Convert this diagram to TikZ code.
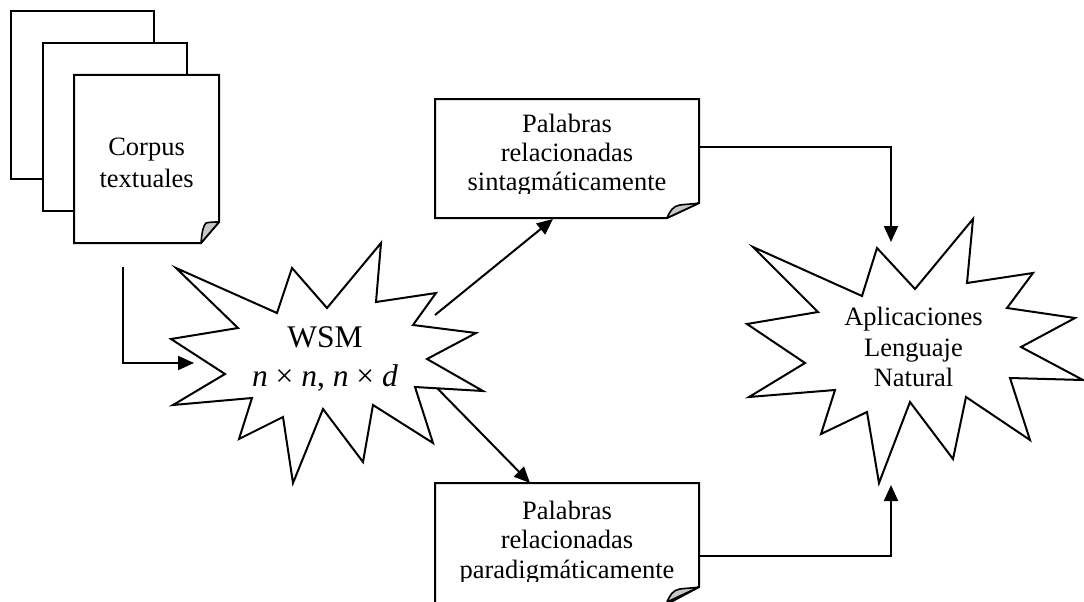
\documentclass[tikz,border=0pt]{standalone}
\usepackage{fontspec}
\setmainfont{Liberation Serif}
\usetikzlibrary{arrows.meta}
\begin{document}
\begin{tikzpicture}[x=1pt,y=-1pt,
  ln/.style={line width=2pt, line join=miter},
  shapebox/.style={ln, draw=black, fill=white},
  foldfill/.style={line width=1.6pt, draw=black, fill=black!22, line join=round},
  conn/.style={ln, -{Triangle[length=16pt,width=14pt]}},
  txt/.style={inner sep=0pt, align=center},
]
\clip (0,0) rectangle (1084,602);
\fill[white] (0,0) rectangle (1084,602);

% ---- stacked pages (Corpus textuales)
\draw[shapebox] (11,11) rectangle (154,179);
\draw[shapebox] (43,43) rectangle (187,211);
\draw[shapebox] (74,75) -- (219,75) -- (219,222) -- (201,243) -- (74,243) -- cycle;
\draw[foldfill] (201,243) .. controls (202,232) and (203,226) .. (206,223)
  .. controls (210,222) and (215,222) .. (219,222) -- cycle;
\node[txt, font=\fontsize{26.5}{32}\selectfont] (corpus) at (146.6,165)
  {\strut Corpus\\\strut textuales};

% ---- WSM explosion
\draw[shapebox] (176,268) -- (277,313) -- (292,268) -- (327,308) -- (381,243)
  -- (376,302) -- (436,293) -- (413,325) -- (476,333) -- (427,359) -- (483,391)
  -- (415,387) -- (433,443) -- (373,405) -- (363,462) -- (323,409) -- (293,483)
  -- (283,417) -- (239,439) -- (252,398) -- (173,405) -- (225,374) -- (171,339)
  -- (238,328) -- cycle;
\node[txt, font=\fontsize{31.5}{39}\selectfont] (wsm) at (325,359)
  {\strut WSM\\\strut\textit{n} × \textit{n}, \textit{n} × \textit{d}};

% ---- top box (sintagmaticamente)
\draw[shapebox] (435,99) -- (699,99) -- (699,203) -- (667,218) -- (435,218) -- cycle;
\draw[foldfill] (667,218) .. controls (670,211) and (673,206) .. (680,205)
  .. controls (688,204) and (694,204) .. (699,203) -- cycle;
\begin{scope}
\clip (436,100) rectangle (698,193);
\node[txt, font=\fontsize{26.5}{29}\selectfont] (sint) at (567,155.5)
  {\strut Palabras\\\strut relacionadas\\\strut sintagmáticamente};
\end{scope}

% ---- bottom box (paradigmaticamente)
\draw[shapebox] (435,483) -- (699,483) -- (699,587) -- (667,604) -- (435,604) -- cycle;
\draw[foldfill] (667,602) .. controls (670,595) and (673,590) .. (680,589)
  .. controls (688,588) and (694,588) .. (699,587) -- cycle;
\begin{scope}
\clip (436,484) rectangle (698,581);
\node[txt, font=\fontsize{26.5}{29.5}\selectfont] (parad) at (567,543)
  {\strut Palabras\\\strut relacionadas\\\strut paradigmáticamente};
\end{scope}

% ---- Aplicaciones explosion
\draw[shapebox] (753,247) -- (862,296) -- (877,248) -- (915,289) -- (973,219)
  -- (967,283) -- (1033,273) -- (1007,308) -- (1075,318) -- (1021,347) -- (1083,380)
  -- (1010,378) -- (1030,440) -- (966,397) -- (953,459) -- (910,402) -- (879,483)
  -- (867,412) -- (821,434) -- (835,390) -- (749,397) -- (805,363) -- (747,324)
  -- (818,312) -- cycle;
\node[txt, font=\fontsize{26.5}{30.5}\selectfont] (apl) at (913.5,350)
  {\strut Aplicaciones\\\strut Lenguaje\\\strut Natural};

% ---- connectors
\coordinate (c-start) at (123,267);
\coordinate (c-bend) at (123,363);
\coordinate (wsm-w) at (194,363);
\draw[conn] (c-start) -- (c-bend) -- (wsm-w);

\coordinate (wsm-ne) at (435,315);
\coordinate (sint-s) at (553,219);
\draw[conn] (wsm-ne) -- (sint-s);

\coordinate (wsm-se) at (437,388);
\coordinate (parad-n) at (530,483);
\draw[conn] (wsm-se) -- (parad-n);

\coordinate (sint-e) at (699,147);
\coordinate (t-bend) at (891,147);
\coordinate (apl-n) at (891,242);
\draw[conn] (sint-e) -- (t-bend) -- (apl-n);

\coordinate (parad-e) at (699,556);
\coordinate (b-bend) at (891,556);
\coordinate (apl-s) at (891,485);
\draw[conn] (parad-e) -- (b-bend) -- (apl-s);
\end{tikzpicture}
\end{document}
